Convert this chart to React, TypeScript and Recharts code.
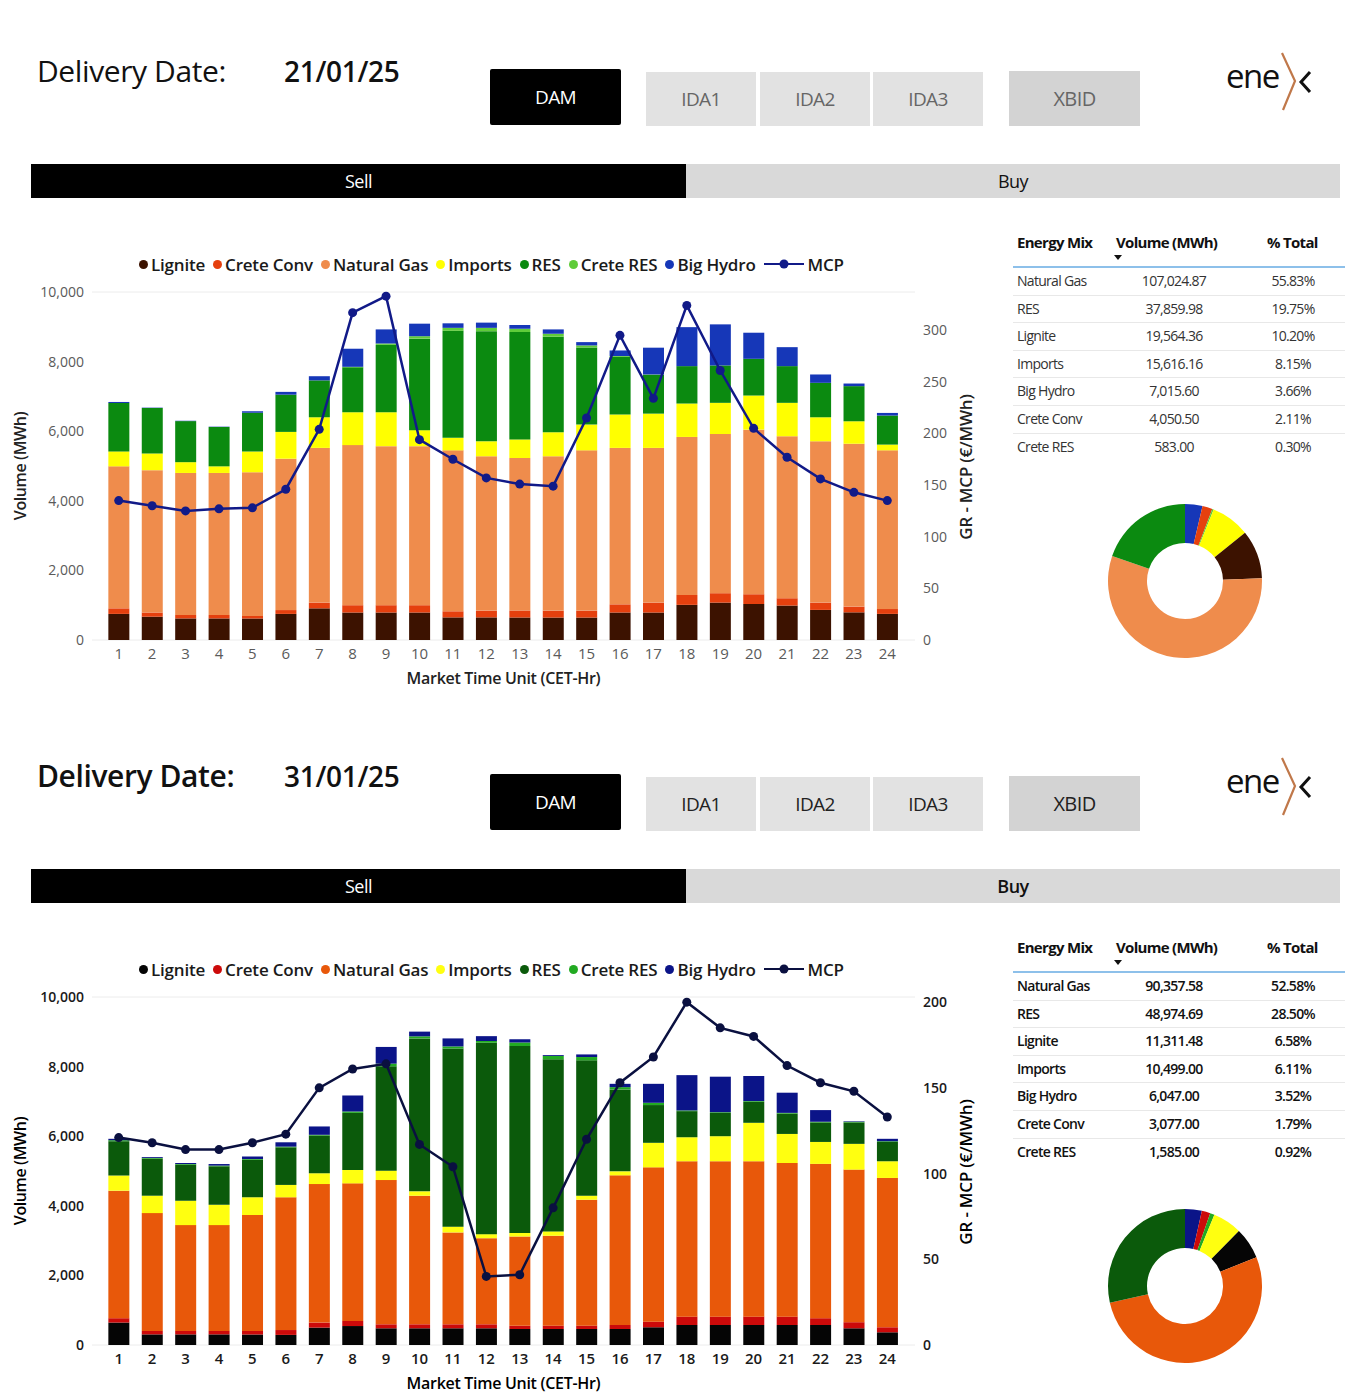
import React from "react";
import {
	ComposedChart,
	Bar,
	Line,
	XAxis,
	YAxis,
	CartesianGrid,
	PieChart,
	Pie,
	Cell,
} from "recharts";

const hours = ["1", "2", "3", "4", "5", "6", "7", "8", "9", "10", "11", "12", "13", "14", "15", "16", "17", "18", "19", "20", "21", "22", "23", "24"];

// 21/01/25 - DAM sell, MWh per hour
const lignite21 = [750, 670, 620, 620, 620, 750, 910, 790, 790, 790, 650, 650, 645, 645, 645, 790, 790, 1010, 1075, 1035, 990, 865, 795, 750];
const creteConv21 = [160, 120, 100, 100, 70, 110, 165, 210, 210, 210, 175, 195, 200, 200, 200, 235, 285, 285, 270, 280, 210, 210, 165, 140];
const natGas21 = [4080, 4090, 4080, 4080, 4130, 4350, 4445, 4600, 4570, 4570, 4625, 4435, 4385, 4435, 4605, 4495, 4445, 4540, 4575, 4730, 4655, 4635, 4680, 4560];
const imports21 = [430, 480, 310, 190, 600, 770, 880, 945, 975, 460, 360, 430, 530, 690, 740, 960, 985, 960, 895, 980, 960, 690, 645, 165];
const res21 = [1390, 1310, 1180, 1130, 1110, 1070, 1060, 1290, 1935, 2630, 3075, 3165, 3090, 2745, 2215, 1655, 1117, 1075, 1075, 1055, 1055, 990, 1010, 835];
const creteRes21 = [0, 0, 0, 0, 0, 0, 0, 15, 40, 70, 85, 95, 95, 85, 60, 25, 8, 0, 0, 0, 0, 0, 0, 0];
const bigHydro21 = [30, 10, 10, 10, 40, 80, 120, 520, 405, 360, 130, 150, 105, 125, 95, 160, 770, 1120, 1180, 750, 545, 240, 75, 75];
const mcp21 = [135, 130, 125, 127, 128, 146, 204, 317, 333, 194, 175, 157, 151, 149, 215, 295, 234, 324, 261, 205, 177, 156, 143, 135];

// 31/01/25 - DAM sell, MWh per hour
const lignite31 = [645, 305, 305, 305, 305, 290, 500, 545, 480, 480, 480, 480, 460, 460, 460, 460, 510, 575, 575, 575, 575, 575, 480, 365];
const creteConv31 = [125, 100, 100, 100, 100, 140, 145, 145, 115, 115, 115, 115, 95, 95, 95, 115, 160, 240, 240, 240, 240, 195, 175, 145];
const natGas31 = [3665, 3385, 3040, 3040, 3330, 3815, 3980, 3955, 4145, 3695, 2640, 2475, 2565, 2585, 3620, 4300, 4435, 4465, 4465, 4465, 4415, 4435, 4385, 4290];
const imports31 = [435, 500, 700, 585, 510, 355, 310, 385, 270, 125, 165, 115, 95, 125, 115, 115, 705, 690, 720, 1105, 835, 630, 740, 480];
const res31 = [985, 1065, 1035, 1105, 1080, 1080, 1085, 1640, 3000, 4395, 5120, 5500, 5375, 4945, 3890, 2355, 1085, 750, 670, 605, 585, 560, 615, 555];
const creteRes31 = [30, 20, 20, 20, 20, 20, 20, 40, 75, 60, 60, 50, 100, 95, 95, 65, 65, 20, 20, 20, 20, 20, 20, 20];
const bigHydro31 = [40, 25, 30, 45, 70, 125, 240, 460, 480, 135, 230, 140, 95, 25, 75, 95, 545, 1015, 1020, 720, 580, 335, 15, 70];
const mcp31 = [121, 118, 114, 114, 118, 123, 150, 161, 164, 117, 104, 40, 41, 80, 120, 153, 168, 200, 185, 180, 163, 153, 148, 133];

// energy mix table
const mixNames = ["Natural Gas", "RES", "Lignite", "Imports", "Big Hydro", "Crete Conv", "Crete RES"];
const mixVolume21 = [107024.87, 37859.98, 19564.36, 15616.16, 7015.6, 4050.5, 583.0];
const mixShare21 = [55.83, 19.75, 10.2, 8.15, 3.66, 2.11, 0.3];
const mixVolume31 = [90357.58, 48974.69, 11311.48, 10499.0, 6047.0, 3077.0, 1585.0];
const mixShare31 = [52.58, 28.5, 6.58, 6.11, 3.52, 1.79, 0.92];

const leftTicks = [0, 2000, 4000, 6000, 8000, 10000];
const mcpTicks21 = [0, 50, 100, 150, 200, 250, 300];
const mcpTicks31 = [0, 50, 100, 150, 200];

const seriesKeys = ["lignite", "creteConv", "naturalGas", "imports", "res", "creteRes", "bigHydro"];
const seriesNames = ["Lignite", "Crete Conv", "Natural Gas", "Imports", "RES", "Crete RES", "Big Hydro"];

const palette21: Record<string, string> = {
	lignite: "#3c1200",
	creteConv: "#e5400e",
	naturalGas: "#ef8c4c",
	imports: "#ffff00",
	res: "#0b8a10",
	creteRes: "#5fcc3a",
	bigHydro: "#1637b8",
	mcp: "#111a88",
};
const palette31: Record<string, string> = {
	lignite: "#050505",
	creteConv: "#cc0a0a",
	naturalGas: "#e8580a",
	imports: "#ffff10",
	res: "#0b5a0b",
	creteRes: "#22aa22",
	bigHydro: "#0b1488",
	mcp: "#0a1040",
};

const pieKeyOf: Record<string, string> = {
	"Natural Gas": "naturalGas",
	RES: "res",
	Lignite: "lignite",
	Imports: "imports",
	"Big Hydro": "bigHydro",
	"Crete Conv": "creteConv",
	"Crete RES": "creteRes",
};

const FONT = "'Open Sans', 'Noto Sans', sans-serif";

const fmtNum = (v: number) =>
	v.toLocaleString("en-US", { minimumFractionDigits: 2, maximumFractionDigits: 2 });

interface PanelProps {
	top: number;
	date: string;
	lignite: number[];
	creteConv: number[];
	naturalGas: number[];
	imports: number[];
	res: number[];
	creteRes: number[];
	bigHydro: number[];
	mcp: number[];
	mcpMax: number;
	mcpTicks: number[];
	volumes: number[];
	shares: number[];
	pal: Record<string, string>;
	strong: boolean;
}

const Panel: React.FC<PanelProps> = (p) => {
	const rows = hours.map((h, i) => ({
		hour: h,
		lignite: p.lignite[i],
		creteConv: p.creteConv[i],
		naturalGas: p.naturalGas[i],
		imports: p.imports[i],
		res: p.res[i],
		creteRes: p.creteRes[i],
		bigHydro: p.bigHydro[i],
		mcp: p.mcp[i],
	}));
	const pieData = mixNames
		.map((n, i) => ({ name: n, value: p.volumes[i] }))
		.sort((a, b) => (a.name < b.name ? -1 : 1));

	const tickFill = p.strong ? "#1a1a1a" : "#5a5a5a";
	const tickWeight = p.strong ? 600 : 400;
	const labelColor = p.strong ? "#000" : "#222";
	const btnText = p.strong ? "#222" : "#666";
	const headWeight = p.strong ? 600 : 400;

	return (
		<div style={{ position: "absolute", left: 0, top: p.top, width: 1345, height: 705 }}>
			{/* header */}
			<div style={{ position: "absolute", left: 37, top: 51, fontFamily: FONT, fontSize: 30, fontWeight: headWeight, color: "#111", letterSpacing: -0.4, lineHeight: "40px" }}>
				Delivery Date:
			</div>
			<div style={{ position: "absolute", left: 284, top: 51, fontFamily: FONT, fontSize: 28, color: "#111", letterSpacing: -0.3, lineHeight: "40px", fontWeight: 600 }}>
				{p.date}
			</div>
			<div style={{ position: "absolute", left: 490, top: 69, width: 131, height: 56, background: "#000", borderRadius: 2, color: "#fff", fontFamily: FONT, fontSize: 19, display: "flex", alignItems: "center", justifyContent: "center", letterSpacing: -0.6 }}>
				DAM
			</div>
			{[
				["IDA1", 646, 110],
				["IDA2", 760, 110],
				["IDA3", 873, 110],
			].map(([t, x, w]) => (
				<div key={t as string} style={{ position: "absolute", left: x as number, top: 72, width: w as number, height: 54, background: "#e2e2e2", color: btnText, fontFamily: FONT, fontSize: 19, display: "flex", alignItems: "center", justifyContent: "center", letterSpacing: -0.6 }}>
					{t}
				</div>
			))}
			<div style={{ position: "absolute", left: 1009, top: 71, width: 131, height: 55, background: "#d3d3d3", color: btnText, fontFamily: FONT, fontSize: 20, display: "flex", alignItems: "center", justifyContent: "center", letterSpacing: -0.6 }}>
				XBID
			</div>
			{/* enex logo */}
			<div style={{ position: "absolute", left: 1226, top: 56, fontFamily: FONT, fontSize: 33, color: "#111", letterSpacing: -1.5, lineHeight: "40px" }}>
				ene
			</div>
			<svg style={{ position: "absolute", left: 1278, top: 50 }} width={40} height={64}>
				<polyline points="4,3 17,31 5,60" fill="none" stroke="#c0784a" strokeWidth={2.2} />
				<polyline points="32,22 23,32 32,42" fill="none" stroke="#111" strokeWidth={3} />
			</svg>
			{/* sell / buy */}
			<div style={{ position: "absolute", left: 31, top: 164, width: 655, height: 34, background: "#000", color: "#fff", fontFamily: FONT, fontSize: 18, display: "flex", alignItems: "center", justifyContent: "center", letterSpacing: -0.5 }}>
				Sell
			</div>
			<div style={{ position: "absolute", left: 686, top: 164, width: 654, height: 34, background: "#d9d9d9", color: "#111", fontFamily: FONT, fontSize: 18, display: "flex", alignItems: "center", justifyContent: "center", letterSpacing: -0.5, fontWeight: p.strong ? 600 : 500 }}>
				Buy
			</div>

			{/* legend */}
			<div style={{ position: "absolute", left: 139, top: 253, height: 22, display: "flex", alignItems: "center", fontFamily: FONT, fontSize: 17, fontWeight: 600, color: "#1a1a1a", letterSpacing: -0.2, whiteSpace: "nowrap" }}>
				{seriesKeys.map((k, i) => (
					<span key={k} style={{ display: "flex", alignItems: "center", marginRight: 8 }}>
						<span style={{ width: 9, height: 9, borderRadius: 5, background: p.pal[k], marginRight: 3 }} />
						{seriesNames[i]}
					</span>
				))}
				<svg width={40} height={12} style={{ marginRight: 4 }}>
					<line x1={0} y1={6} x2={40} y2={6} stroke={p.pal.mcp} strokeWidth={2} />
					<circle cx={20} cy={6} r={4.5} fill={p.pal.mcp} />
				</svg>
				MCP
			</div>

			{/* axis titles */}
			<div style={{ position: "absolute", left: 20, top: 466, width: 0, height: 0 }}>
				<div style={{ position: "absolute", transform: "translate(-50%, -50%) rotate(-90deg)", fontFamily: FONT, fontSize: 16, fontWeight: 600, color: labelColor, whiteSpace: "nowrap", letterSpacing: -0.4 }}>
					Volume (MWh)
				</div>
			</div>
			<div style={{ position: "absolute", left: 965, top: 467, width: 0, height: 0 }}>
				<div style={{ position: "absolute", transform: "translate(-50%, -50%) rotate(-90deg)", fontFamily: FONT, fontSize: 17, fontWeight: 600, color: labelColor, whiteSpace: "nowrap", letterSpacing: -0.2 }}>
					GR - MCP (€/MWh)
				</div>
			</div>

			<div style={{ position: "absolute", left: 0, top: 250 }}>
				<ComposedChart
					width={1000}
					height={450}
					data={rows}
					margin={{ top: 42, right: 0, bottom: 0, left: 0 }}
					barCategoryGap="19%"
				>
					<CartesianGrid vertical={false} stroke="#ececec" />
					<XAxis
						dataKey="hour"
						height={60}
						padding={{ left: 10, right: 11 }}
						tickLine={false}
						axisLine={false}
						interval={0}
						tick={{ fontSize: 15, fill: tickFill, fontFamily: FONT, fontWeight: tickWeight }}
						label={{ value: "Market Time Unit (CET-Hr)", position: "insideBottom", offset: 16, fontSize: 16, fontWeight: 600, fill: labelColor, fontFamily: FONT, letterSpacing: -0.3 }}
					/>
					<YAxis
						yAxisId="vol"
						width={92}
						domain={[0, 10000]}
						ticks={leftTicks}
						tickLine={false}
						axisLine={false}
						tickFormatter={(v) => Number(v).toLocaleString("en-US")}
						tick={{ fontSize: 14, fill: tickFill, fontFamily: FONT, fontWeight: tickWeight }}
					/>
					<YAxis
						yAxisId="mcp"
						orientation="right"
						width={85}
						domain={[0, p.mcpMax]}
						ticks={p.mcpTicks}
						tickLine={false}
						axisLine={false}
						tick={{ fontSize: 14, fill: tickFill, fontFamily: FONT, fontWeight: tickWeight }}
					/>
					{seriesKeys.map((k, i) => (
						<Bar
							key={k}
							yAxisId="vol"
							dataKey={k}
							name={seriesNames[i]}
							stackId="mix"
							fill={p.pal[k]}
							isAnimationActive={false}
						/>
					))}
					<Line
						yAxisId="mcp"
						dataKey="mcp"
						name="MCP"
						stroke={p.pal.mcp}
						strokeWidth={2.5}
						dot={{ r: 4.5, fill: p.pal.mcp, stroke: p.pal.mcp, strokeWidth: 0 }}
						isAnimationActive={false}
					/>
				</ComposedChart>
			</div>

			{/* energy mix table */}
			<div style={{ position: "absolute", left: 1013, top: 232, width: 332, fontFamily: FONT, color: p.strong ? "#111" : "#333" }}>
				<div style={{ position: "relative", height: 34, fontSize: 15, fontWeight: 700, color: "#111", letterSpacing: -0.7 }}>
					<span style={{ position: "absolute", left: 4, top: 0 }}>Energy Mix</span>
					<span style={{ position: "absolute", left: 103, top: 0 }}>Volume (MWh)</span>
					<div style={{ position: "absolute", left: 101, top: 23, width: 0, height: 0, borderLeft: "4px solid transparent", borderRight: "4px solid transparent", borderTop: "5px solid #111" }} />
					<span style={{ position: "absolute", left: 254, top: 0 }}>% Total</span>
				</div>
				<div style={{ height: 2, background: "#8dc0ea" }} />
				{mixNames.map((n, i) => (
					<div key={n} style={{ position: "relative", height: 27.6, borderBottom: i < 6 ? "1px solid #e8e8e8" : "none", boxSizing: "border-box", fontSize: 14, fontWeight: p.strong ? 600 : 400, letterSpacing: -0.7 }}>
						<span style={{ position: "absolute", left: 4, top: 3 }}>{n}</span>
						<span style={{ position: "absolute", left: 111, width: 100, top: 3, textAlign: "center" }}>{fmtNum(p.volumes[i])}</span>
						<span style={{ position: "absolute", left: 240, width: 80, top: 3, textAlign: "center" }}>{p.shares[i].toFixed(2)}%</span>
					</div>
				))}
			</div>

			{/* donut */}
			<div style={{ position: "absolute", left: 1085, top: 481 }}>
				<PieChart width={200} height={200} margin={{ top: 0, right: 0, bottom: 0, left: 0 }}>
					<Pie
						data={pieData}
						dataKey="value"
						nameKey="name"
						cx={100}
						cy={100}
						innerRadius={38}
						outerRadius={77}
						startAngle={90}
						endAngle={-270}
						stroke="none"
						isAnimationActive={false}
					>
						{pieData.map((d) => (
							<Cell key={d.name} fill={p.pal[pieKeyOf[d.name]]} />
						))}
					</Pie>
				</PieChart>
			</div>
		</div>
	);
};

export default function App() {
	return (
		<div style={{ position: "absolute", left: 0, top: 0, width: 1345, height: 1400, background: "#fff", overflow: "hidden" }}>
			<Panel
				top={0}
				date="21/01/25"
				lignite={lignite21}
				creteConv={creteConv21}
				naturalGas={natGas21}
				imports={imports21}
				res={res21}
				creteRes={creteRes21}
				bigHydro={bigHydro21}
				mcp={mcp21}
				mcpMax={337}
				mcpTicks={mcpTicks21}
				volumes={mixVolume21}
				shares={mixShare21}
				pal={palette21}
				strong={false}
			/>
			<Panel
				top={705}
				date="31/01/25"
				lignite={lignite31}
				creteConv={creteConv31}
				naturalGas={natGas31}
				imports={imports31}
				res={res31}
				creteRes={creteRes31}
				bigHydro={bigHydro31}
				mcp={mcp31}
				mcpMax={203}
				mcpTicks={mcpTicks31}
				volumes={mixVolume31}
				shares={mixShare31}
				pal={palette31}
				strong={true}
			/>
		</div>
	);
}
